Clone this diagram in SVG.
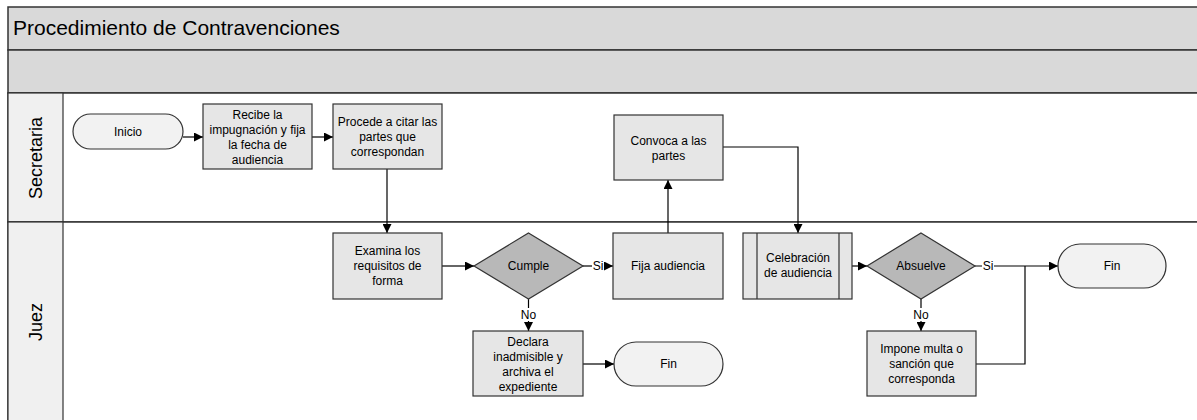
<svg xmlns="http://www.w3.org/2000/svg" width="1197" height="420" viewBox="0 0 1197 420">
  <style>
    text { font-family: "Liberation Sans", Arial, sans-serif; fill: #000; }
    .t { font-size: 12px; text-anchor: middle; }
    .band { fill: #d9d9d9; stroke: #333; stroke-width: 1.5; }
    .lanehead { fill: #f0f0f0; stroke: #333; stroke-width: 1.2; }
    .lane { fill: #fff; stroke: #333; stroke-width: 1.5; }
    .proc { fill: #e6e6e6; stroke: #333; stroke-width: 1.2; }
    .term { fill: #f2f2f2; stroke: #333; stroke-width: 1.2; }
    .dec { fill: #b8b8b8; stroke: #333; stroke-width: 1.2; }
    .edge { fill: none; stroke: #000; stroke-width: 1.2; }
    .lbl { font-size: 12px; text-anchor: middle; }
  </style>
  <defs>
    <marker id="arr" viewBox="0 0 10 10" refX="10" refY="5" markerWidth="9" markerHeight="9" markerUnits="userSpaceOnUse" orient="auto">
      <path d="M0,0 L10,5 L0,10 z" fill="#000"/>
    </marker>
  </defs>

  <rect width="1197" height="420" fill="#fff"/>

  <!-- pool header bands -->
  <g id="pool">
    <rect class="band" x="8" y="7" width="1200" height="43"/>
    <text x="13" y="35" font-size="21">Procedimiento de Contravenciones</text>
    <rect class="band" x="8" y="50" width="1200" height="43"/>
  </g>

  <!-- lanes -->
  <g id="lane-secretaria">
    <rect class="lane" x="8" y="93" width="1200" height="129"/>
    <rect class="lanehead" x="8" y="93" width="55" height="129"/>
    <text x="0" y="0" font-size="18" text-anchor="middle" transform="translate(42,158) rotate(-90)">Secretaria</text>
  </g>
  <g id="lane-juez">
    <rect class="lane" x="8" y="222" width="1200" height="210"/>
    <rect class="lanehead" x="8" y="222" width="55" height="210"/>
    <text x="0" y="0" font-size="18" text-anchor="middle" transform="translate(42,322) rotate(-90)">Juez</text>
  </g>

  <!-- connectors -->
  <g id="connectors">
    <path class="edge" d="M183,137 L203,137" marker-end="url(#arr)"/>
    <path class="edge" d="M312,137 L333,137" marker-end="url(#arr)"/>
    <path class="edge" d="M387,169 L387,233" marker-end="url(#arr)"/>
    <path class="edge" d="M442,266 L474,266" marker-end="url(#arr)"/>
    <path class="edge" d="M583,266 L592,266"/>
    <path class="edge" d="M604,266 L613,266" marker-end="url(#arr)"/>
    <path class="edge" d="M528.5,299 L528.5,308"/>
    <path class="edge" d="M528.5,321 L528.5,331" marker-end="url(#arr)"/>
    <path class="edge" d="M583,364 L614,364" marker-end="url(#arr)"/>
    <path class="edge" d="M668,233 L668,180" marker-end="url(#arr)"/>
    <path class="edge" d="M723,147 L798,147 L798,233" marker-end="url(#arr)"/>
    <path class="edge" d="M852,266 L867,266" marker-end="url(#arr)"/>
    <path class="edge" d="M975,266 L982,266 M994,266 L1058,266" marker-end="url(#arr)"/>
    <path class="edge" d="M921,299 L921,308 M921,321 L921,331" marker-end="url(#arr)"/>
    <path class="edge" d="M976,364 L1025,364 L1025,266"/>
    <text class="lbl" x="598" y="270">Si</text>
    <text class="lbl" x="528.5" y="319">No</text>
    <text class="lbl" x="988" y="270">Si</text>
    <text class="lbl" x="921" y="319">No</text>
  </g>

  <!-- nodes -->
  <g id="inicio">
    <rect class="term" x="73" y="114" width="110" height="35" rx="17.5" ry="17.5"/>
    <text class="t" x="128" y="136">Inicio</text>
  </g>
  <g id="recibe">
    <rect class="proc" x="203" y="104" width="109" height="65"/>
    <text class="t" x="257.5" y="119">Recibe la</text>
    <text class="t" x="257.5" y="134">impugnación y fija</text>
    <text class="t" x="257.5" y="149">la fecha de</text>
    <text class="t" x="257.5" y="164">audiencia</text>
  </g>
  <g id="procede">
    <rect class="proc" x="333" y="104" width="109" height="65"/>
    <text class="t" x="387.5" y="126">Procede a citar las</text>
    <text class="t" x="387.5" y="141">partes que</text>
    <text class="t" x="387.5" y="156">correspondan</text>
  </g>
  <g id="convoca">
    <rect class="proc" x="614" y="115" width="109" height="65"/>
    <text class="t" x="668.5" y="145">Convoca a las</text>
    <text class="t" x="668.5" y="160">partes</text>
  </g>
  <g id="examina">
    <rect class="proc" x="333" y="233" width="109" height="66"/>
    <text class="t" x="387.5" y="255">Examina los</text>
    <text class="t" x="387.5" y="270">requisitos de</text>
    <text class="t" x="387.5" y="285">forma</text>
  </g>
  <g id="cumple">
    <path class="dec" d="M528.5,233 L583,266 L528.5,299 L474,266 Z"/>
    <text class="t" x="528.5" y="270">Cumple</text>
  </g>
  <g id="fija">
    <rect class="proc" x="613" y="233" width="110" height="66"/>
    <text class="t" x="668" y="270">Fija audiencia</text>
  </g>
  <g id="declara">
    <rect class="proc" x="473" y="331" width="110" height="65"/>
    <text class="t" x="528" y="346">Declara</text>
    <text class="t" x="528" y="361">inadmisible y</text>
    <text class="t" x="528" y="376">archiva el</text>
    <text class="t" x="528" y="391">expediente</text>
  </g>
  <g id="fin1">
    <rect class="term" x="614" y="342" width="109" height="44" rx="22" ry="22"/>
    <text class="t" x="668.5" y="368">Fin</text>
  </g>
  <g id="celebracion">
    <rect class="proc" x="743" y="233" width="109" height="66"/>
    <path d="M757,233 L757,299 M839,233 L839,299" fill="none" stroke="#333" stroke-width="1.2"/>
    <text class="t" x="798" y="262">Celebración</text>
    <text class="t" x="798" y="277">de audiencia</text>
  </g>
  <g id="absuelve">
    <path class="dec" d="M921,233 L975,266 L921,299 L867,266 Z"/>
    <text class="t" x="921" y="270">Absuelve</text>
  </g>
  <g id="impone">
    <rect class="proc" x="867" y="331" width="109" height="65"/>
    <text class="t" x="921.5" y="353">Impone multa o</text>
    <text class="t" x="921.5" y="368">sanción que</text>
    <text class="t" x="921.5" y="383">corresponda</text>
  </g>
  <g id="fin2">
    <rect class="term" x="1058" y="244" width="108" height="44" rx="22" ry="22"/>
    <text class="t" x="1112" y="270">Fin</text>
  </g>
</svg>
